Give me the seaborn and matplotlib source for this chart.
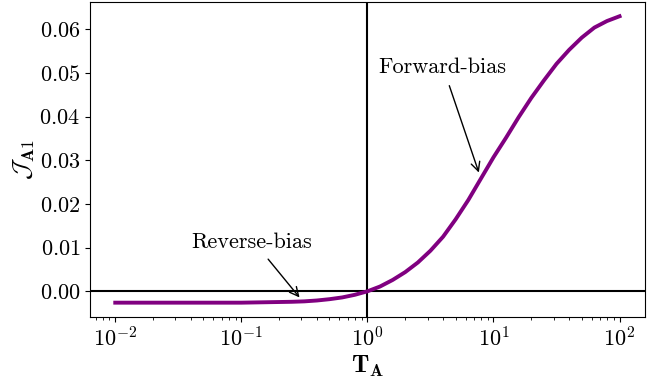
import matplotlib
matplotlib.use("Agg")
import matplotlib.pyplot as plt
from matplotlib.ticker import MultipleLocator, LogLocator, NullFormatter
import seaborn as sns
import pandas as pd

# Current density J_A1 versus T_A (log scale)
T_A = [0.01, 0.0316, 0.1, 0.158, 0.251, 0.316, 0.398, 0.501, 0.631, 0.794,
       1.0, 1.259, 1.585, 1.995, 2.512, 3.162, 3.981, 5.012, 6.310, 7.943,
       10.0, 12.59, 15.85, 19.95, 25.12, 31.62, 39.81, 50.12, 63.10, 79.43,
       100.0]
J_A1 = [-0.0026, -0.0026, -0.0026, -0.0025, -0.0024, -0.0023, -0.0021,
        -0.0018, -0.0014, -0.0008, 0.0, 0.0011, 0.0026, 0.0044, 0.0066,
        0.0093, 0.0125, 0.0165, 0.0209, 0.0258, 0.0307, 0.0352, 0.0399,
        0.0443, 0.0483, 0.0521, 0.0553, 0.0581, 0.0604, 0.0619, 0.0630]

plt.rcParams.update({
    "font.family": "serif",
    "font.serif": ["cmr10"],
    "mathtext.fontset": "cm",
    "axes.formatter.use_mathtext": True,
    "axes.unicode_minus": True,
    "font.size": 16,
})

df = pd.DataFrame({"T": T_A, "J": J_A1})

fig = plt.figure(figsize=(6.62, 3.84), dpi=100)
ax = fig.add_axes([0.136, 0.1745, 0.838, 0.8205])

sns.lineplot(data=df, x="T", y="J", ax=ax, color="purple", linewidth=2.8)
ax.set_xscale("log")
ax.xaxis.set_major_locator(LogLocator(base=10))
ax.xaxis.set_minor_locator(LogLocator(base=10, subs=range(2, 10), numticks=20))
ax.xaxis.set_minor_formatter(NullFormatter())
ax.yaxis.set_major_locator(MultipleLocator(0.01))
ax.axhline(0, color="black", linewidth=1.5, zorder=1)
ax.axvline(1, color="black", linewidth=1.5, zorder=1)

ax.set_xlabel(r"$\mathbf{T_A}$", fontsize=18, labelpad=2)
ax.set_ylabel(r"$\mathcal{J}_{\mathbf{A1}}$", fontsize=18, labelpad=2)
ax.tick_params(labelsize=16)

ax.text(1.21, 0.0499, "Forward-bias", fontsize=16, ha="left", va="baseline")
ax.annotate("", xy=(7.78, 0.0266), xytext=(4.39, 0.0477),
            arrowprops=dict(arrowstyle="->", color="black", lw=1.0))
ax.text(0.0404, 0.00985, "Reverse-bias", fontsize=16, ha="left", va="baseline")
ax.annotate("", xy=(0.299, -0.0019), xytext=(0.158, 0.00786),
            arrowprops=dict(arrowstyle="->", color="black", lw=1.0))

fig.savefig("out.png", dpi=100)
